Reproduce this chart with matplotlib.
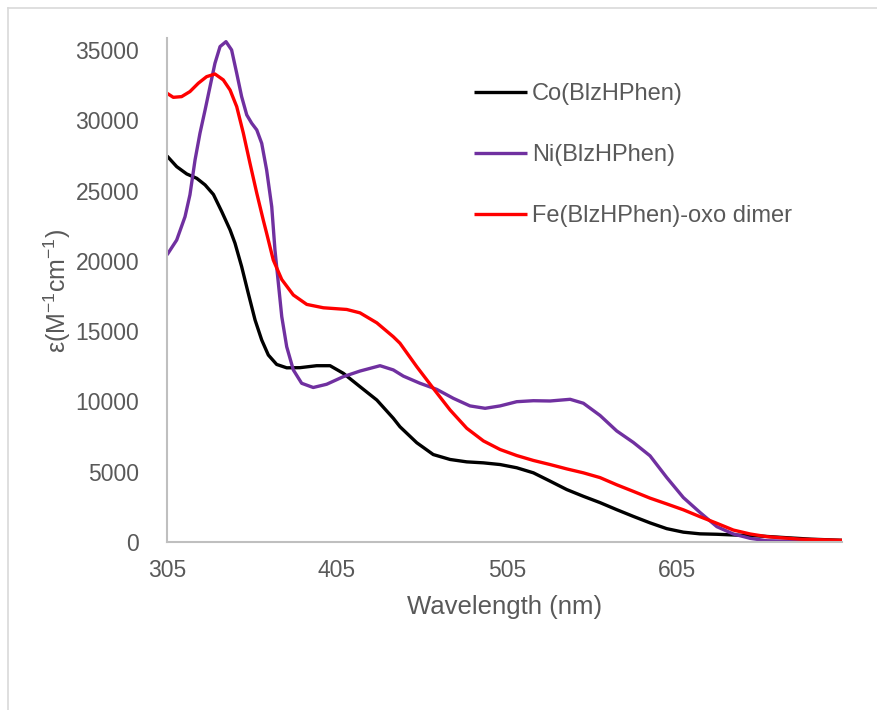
import matplotlib
matplotlib.use("Agg")
import matplotlib.pyplot as plt
from matplotlib.lines import Line2D

plt.rcParams['font.family'] = ['Liberation Sans', 'DejaVu Sans']
plt.rcParams['mathtext.fontset'] = 'custom'
plt.rcParams['mathtext.rm'] = 'Liberation Sans'

# ---- data ----
co_x = [305, 310.7, 316.6, 322.5, 327.4, 332.3, 337.2, 342.1, 345, 348.9, 352.8, 356.8,
        360.7, 364.6, 369.5, 375.4, 383.2, 393, 400.9, 408.7, 418.5, 428.4, 438.1, 442,
        451.9, 461.6, 471.5, 481.3, 491.1, 500.9, 510.7, 520.5, 530.3, 540.1, 549.9,
        559.7, 569.5, 579.3, 589.1, 598.9, 608.7, 618.5, 628.4, 638.1, 654.5, 667.5,
        684, 702]
co_y = [27460, 26700, 26180, 25870, 25400, 24720, 23500, 22200, 21250, 19590, 17690, 15790,
        14370, 13300, 12630, 12390, 12400, 12540, 12540, 12000, 11050, 10100, 8800, 8200,
        7060, 6220, 5870, 5700, 5630, 5510, 5280, 4920, 4330, 3730, 3250,
        2800, 2300, 1820, 1360, 950, 700, 580, 550, 500, 420, 320, 200, 120]

ni_x = [305, 310.7, 315.6, 318.5, 321.5, 324.4, 327.4, 330.3, 333.2, 336.2, 339.7, 343,
        346, 348.9, 351.9, 354.8, 357.8, 360.7, 363.6, 366.6, 368.5, 370.5, 372.5, 375.4,
        379.3, 384.2, 391, 398.9, 408.7, 418.5, 430.3, 438.1, 444, 453.8, 463.6, 473.4,
        483.2, 492.1, 500.9, 510.7, 520.5, 530.3, 542.1, 549.9, 559.7, 569.5, 579.3,
        589.1, 598.9, 608.7, 618.5, 628.4, 638.1, 648, 657.8, 677.4, 702]
ni_y = [20420, 21480, 23140, 24700, 27180, 29080, 30730, 32390, 34050, 35240, 35590, 35000,
        33340, 31680, 30380, 29790, 29310, 28360, 26460, 23850, 20770, 18400, 16030, 13890,
        12240, 11290, 10990, 11220, 11760, 12160, 12540, 12240, 11800, 11290, 10860, 10220,
        9680, 9510, 9680, 9980, 10050, 10030, 10150, 9870, 9000, 7900, 7080,
        6130, 4590, 3160, 2100, 1090, 570, 260, 90, 40, 30]

fe_x = [305, 308.7, 313.6, 318.5, 323.4, 328.3, 333.2, 338.1, 342.1, 346, 349.9, 353.8,
        357.8, 361.6, 363.6, 367.5, 372.5, 379.3, 387.2, 397, 410.7, 418.5, 428.4, 438.1,
        442, 451.9, 461.6, 471.5, 481.3, 491.1, 500.9, 510.7, 520.5, 530.3, 540.1, 549.9,
        559.7, 569.5, 579.3, 589.1, 598.9, 608.7, 618.5, 628.4, 638.1, 648, 657.8, 677.4,
        702]
fe_y = [31920, 31630, 31680, 32040, 32630, 33100, 33290, 32870, 32150, 30970, 29080, 26940,
        24810, 22910, 21960, 20060, 18670, 17570, 16900, 16660, 16540, 16300, 15590, 14600,
        14140, 12470, 10930, 9390, 8090, 7190, 6580, 6150, 5800, 5510, 5200, 4920,
        4580, 4070, 3600, 3120, 2710, 2290, 1800, 1330, 850, 570, 380, 200,
        120]

labels = ['Co(BlzHPhen)', 'Ni(BlzHPhen)', 'Fe(BlzHPhen)-oxo dimer']
colors = ['#000000', '#7030A0', '#FF0000']
x_ticks = [305, 405, 505, 605]
y_ticks = [0, 5000, 10000, 15000, 20000, 25000, 30000, 35000]

W, H = 878, 710
fig = plt.figure(figsize=(W / 100, H / 100), dpi=100)
ax = fig.add_axes([167 / W, 1 - 542 / H, (842 - 167) / W, (542 - 38) / H])

lw = 2.4
series = [(co_x, co_y), (ni_x, ni_y), (fe_x, fe_y)]
handles = []
for (xs, ys), lab, c in zip(series, labels, colors):
    ln, = ax.plot(xs, ys, color=c, lw=lw, label=lab,
                  solid_joinstyle='round', solid_capstyle='butt')
    handles.append(ln)

ax.set_xlim(305, 702)
ax.set_ylim(0, 35850)
ax.set_xticks(x_ticks)
ax.set_yticks(y_ticks)
ax.set_xticklabels([str(t) for t in x_ticks])
ax.set_yticklabels([str(t) for t in y_ticks])
tc = '#595959'
ax.tick_params(axis='both', length=0, labelsize=16.5, labelcolor=tc)
ax.tick_params(axis='x', pad=12)
ax.tick_params(axis='y', pad=20)
for s in ['top', 'right']:
    ax.spines[s].set_visible(False)
for s in ['left', 'bottom']:
    ax.spines[s].set_color('#BFBFBF')
    ax.spines[s].set_linewidth(1.5)

fig.text(504.5 / W, 1 - 607 / H, 'Wavelength (nm)', ha='center', va='center',
         fontsize=18.5, color=tc)
fig.text(57 / W, 1 - 291 / H, r'ε(M$^{\mathregular{-1}}$cm$^{\mathregular{-1}}$)',
         ha='center', va='center', rotation=90, fontsize=18, color=tc)

leg = ax.legend(handles=handles, labels=labels, loc='upper left',
                bbox_to_anchor=(474 / W, 1 - 83 / H), bbox_transform=fig.transFigure,
                frameon=False, fontsize=17, handlelength=2.25, handletextpad=0.2,
                labelspacing=1.65, borderpad=0, borderaxespad=0, labelcolor=tc)

# chart-area border (top and left visible)
fig.add_artist(Line2D([8 / W, 1], [1 - 8 / H, 1 - 8 / H], transform=fig.transFigure,
                      color='#D9D9D9', lw=1.2))
fig.add_artist(Line2D([8 / W, 8 / W], [0, 1 - 8 / H], transform=fig.transFigure,
                      color='#D9D9D9', lw=1.2))

fig.savefig('out.png', dpi=100)
